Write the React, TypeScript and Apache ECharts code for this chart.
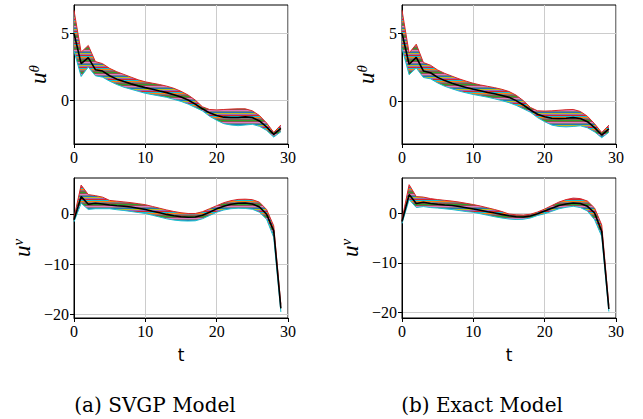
import React, { useEffect, useRef } from 'react';
import * as echarts from 'echarts';

// time steps
const tValues = [0, 1, 2, 3, 4, 5, 6, 7, 8, 9, 10, 11, 12, 13, 14, 15, 16, 17, 18, 19, 20, 21, 22, 23, 24, 25, 26, 27, 28, 29];

// (a) SVGP model, u^theta
const thetaSvgpMean = [5.0, 2.75, 3.2, 2.3, 2.2, 1.85, 1.6, 1.42, 1.25, 1.1, 0.97, 0.85, 0.72, 0.6, 0.45, 0.27, 0.05, -0.25, -0.6, -0.9, -1.1, -1.22, -1.24, -1.24, -1.2, -1.25, -1.5, -1.95, -2.5, -2.05];
const thetaSvgpUpper = [6.7, 3.6, 4.1, 2.9, 2.75, 2.4, 2.15, 1.95, 1.75, 1.55, 1.4, 1.3, 1.2, 1.08, 0.92, 0.7, 0.42, 0.05, -0.45, -0.65, -0.68, -0.65, -0.62, -0.6, -0.6, -0.75, -1.1, -1.65, -2.35, -1.8];
const thetaSvgpLower = [3.7, 1.8, 2.5, 1.85, 1.75, 1.45, 1.2, 1.0, 0.85, 0.7, 0.55, 0.45, 0.35, 0.25, 0.1, -0.05, -0.25, -0.5, -0.75, -1.15, -1.45, -1.7, -1.8, -1.85, -1.8, -1.75, -1.9, -2.2, -2.7, -2.3];

// (b) Exact model, u^theta
const thetaExactMean = [5.0, 2.72, 3.23, 2.23, 2.1, 1.76, 1.52, 1.33, 1.16, 1.02, 0.88, 0.77, 0.65, 0.55, 0.42, 0.29, 0.05, -0.27, -0.64, -0.95, -1.13, -1.25, -1.26, -1.25, -1.2, -1.27, -1.5, -1.94, -2.48, -2.03];
const thetaExactUpper = [6.7, 3.55, 4.2, 2.85, 2.65, 2.3, 2.05, 1.85, 1.65, 1.48, 1.32, 1.2, 1.1, 1.0, 0.88, 0.72, 0.45, 0.05, -0.45, -0.7, -0.72, -0.7, -0.66, -0.62, -0.6, -0.75, -1.1, -1.65, -2.3, -1.75];
const thetaExactLower = [3.9, 1.95, 2.45, 1.75, 1.65, 1.35, 1.1, 0.92, 0.75, 0.62, 0.5, 0.4, 0.3, 0.18, 0.05, -0.1, -0.3, -0.55, -0.8, -1.2, -1.5, -1.75, -1.85, -1.88, -1.85, -1.8, -1.95, -2.25, -2.68, -2.28];

// (a) SVGP model, u^v
const vSvgpMean = [-1.2, 3.4, 1.9, 2.1, 1.95, 1.75, 1.6, 1.5, 1.35, 1.1, 0.85, 0.5, 0.2, -0.13, -0.4, -0.6, -0.7, -0.65, -0.3, 0.3, 0.97, 1.5, 1.9, 2.1, 2.15, 1.95, 1.35, -0.1, -3.4, -18.8];
const vSvgpUpper = [-0.8, 5.7, 3.8, 3.6, 3.3, 2.65, 2.5, 2.35, 2.2, 2.0, 1.8, 1.45, 1.1, 0.75, 0.45, 0.2, 0.05, 0.05, 0.4, 1.0, 1.6, 2.2, 2.6, 2.85, 2.9, 2.8, 2.3, 0.85, -2.4, -18.0];
const vSvgpLower = [-1.6, 2.1, 0.85, 1.0, 1.0, 1.0, 0.8, 0.65, 0.45, 0.25, 0.05, -0.3, -0.65, -1.0, -1.25, -1.4, -1.45, -1.4, -1.0, -0.35, 0.3, 0.75, 1.0, 1.1, 1.05, 0.9, 0.3, -1.1, -4.7, -19.5];

// (b) Exact model, u^v
const vExactMean = [-1.7, 3.7, 1.9, 2.15, 1.9, 1.75, 1.62, 1.5, 1.3, 1.05, 0.8, 0.55, 0.27, 0.0, -0.27, -0.55, -0.75, -0.8, -0.6, -0.15, 0.4, 0.95, 1.5, 1.8, 2.0, 1.9, 1.35, 0.0, -3.7, -19.3];
const vExactUpper = [-1.3, 5.7, 3.3, 3.2, 2.9, 2.7, 2.55, 2.4, 2.2, 1.95, 1.7, 1.4, 1.05, 0.7, 0.3, -0.2, -0.35, -0.4, -0.25, 0.2, 0.8, 1.5, 2.2, 2.7, 3.0, 2.9, 2.4, 1.0, -2.4, -18.6];
const vExactLower = [-2.1, 2.7, 1.1, 1.3, 1.1, 1.0, 0.85, 0.7, 0.5, 0.3, 0.15, -0.15, -0.45, -0.75, -1.0, -1.2, -1.3, -1.25, -1.0, -0.5, -0.15, 0.35, 0.85, 1.15, 1.35, 1.1, 0.4, -1.35, -4.7, -19.8];

const xTicks = [0, 10, 20, 30];
const thetaTicks = [0, 5];
const vTicks = [-20, -10, 0];
const captions = ['(a) SVGP Model', '(b) Exact Model'];

// matplotlib tab10 colours, mixed so that no hue dominates the band texture
const stripeColors = ['#2ca02c', '#8c564b', '#e377c2', '#7f7f7f', '#1f77b4', '#bcbd22', '#9467bd', '#d62728', '#17becf', '#ff7f0e', '#7f7f7f', '#8c564b'];

const SERIF = 'serif';

function makePattern() {
  const c = document.createElement('canvas');
  c.width = 2;
  c.height = stripeColors.length;
  const ctx = c.getContext('2d')!;
  stripeColors.forEach((col, i) => {
    ctx.fillStyle = col;
    ctx.fillRect(0, i, 2, 1);
  });
  return { image: c, repeat: 'repeat', imageWidth: 2, imageHeight: stripeColors.length } as any;
}

export default function App() {
  const ref = useRef<HTMLDivElement>(null);
  useEffect(() => {
    if (!ref.current) return;
    const chart = echarts.init(ref.current, undefined, { renderer: 'svg' });
    const pattern = makePattern();

    const panels = [
      { grid: { left: 74, top: 5, width: 214, height: 139 }, min: -3.21, max: 7.1, ticks: thetaTicks, sup: 'θ', gap: 24, mean: thetaSvgpMean, upper: thetaSvgpUpper, lower: thetaSvgpLower, xName: '' },
      { grid: { left: 402, top: 5, width: 214, height: 139 }, min: -3.14, max: 7.08, ticks: thetaTicks, sup: 'θ', gap: 24, mean: thetaExactMean, upper: thetaExactUpper, lower: thetaExactLower, xName: '' },
      { grid: { left: 74, top: 178, width: 214, height: 140 }, min: -20.7, max: 7.1, ticks: vTicks, sup: 'v', gap: 40, mean: vSvgpMean, upper: vSvgpUpper, lower: vSvgpLower, xName: 't' },
      { grid: { left: 402, top: 178, width: 214, height: 140 }, min: -21.1, max: 7.04, ticks: vTicks, sup: 'v', gap: 40, mean: vExactMean, upper: vExactUpper, lower: vExactLower, xName: 't' },
    ];

    const fmt = (v: number) => String(v).replace('-', '\u2212');

    const option: any = {
      animation: false,
      textStyle: { fontFamily: 'serif' },
      grid: panels.map((p) => ({ ...p.grid, show: true, borderColor: '#000', borderWidth: 1, backgroundColor: 'transparent' })),
      xAxis: panels.map((p, i) => ({
        type: 'value', gridIndex: i, min: 0, max: 30, interval: 10,
        axisLine: { show: true, onZero: false, lineStyle: { color: '#000', width: 1 } },
        axisTick: { show: true, length: 4, lineStyle: { color: '#000' } },
        axisLabel: { color: '#000', fontFamily: SERIF, fontSize: 16, margin: 5, formatter: fmt, customValues: xTicks },
        splitLine: { show: true, lineStyle: { color: '#cccccc', width: 1 } },
        name: p.xName, nameLocation: 'middle', nameGap: 28,
        nameTextStyle: { fontFamily: 'DejaVu Sans', fontSize: 17, color: '#000' },
      })),
      yAxis: panels.map((p, i) => ({
        type: 'value', gridIndex: i, min: p.min, max: p.max,
        axisLine: { show: true, onZero: false, lineStyle: { color: '#000', width: 1 } },
        axisTick: { show: true, length: 4, lineStyle: { color: '#000' }, customValues: p.ticks },
        axisLabel: { color: '#000', fontFamily: 'Times New Roman', fontSize: 16, margin: 5, formatter: fmt, customValues: p.ticks },
        splitLine: { show: true, lineStyle: { color: '#cccccc', width: 1 } },
        name: '{u|u}{s|' + p.sup + '}', nameLocation: 'middle', nameRotate: 90, nameGap: p.gap,
        nameTextStyle: {
          rich: {
            u: { fontFamily: 'Liberation Serif', fontStyle: 'italic', fontSize: 23, color: '#000', lineHeight: 24, verticalAlign: 'bottom' },
            s: { fontFamily: 'Liberation Serif', fontStyle: 'italic', fontSize: 15, color: '#000', lineHeight: 24, verticalAlign: 'top' },
          },
        },
      })),
      series: panels.flatMap((p, i) => [
        {
          type: 'custom', xAxisIndex: i, yAxisIndex: i, clip: true, silent: true, z: 2,
          data: tValues.map((t, j) => [t, p.mean[j]]),
          renderItem: (params: any, api: any) => {
            if (params.dataIndex !== 0) return null;
            const pts: number[][] = [];
            for (let j = 0; j < tValues.length; j++) pts.push(api.coord([tValues[j], p.upper[j]]));
            for (let j = tValues.length - 1; j >= 0; j--) pts.push(api.coord([tValues[j], p.lower[j]]));
            return { type: 'polygon', shape: { points: pts }, style: { fill: pattern, stroke: null } };
          },
        },
        {
          type: 'line', xAxisIndex: i, yAxisIndex: i, silent: true, showSymbol: false, z: 3,
          data: tValues.map((t, j) => [t, p.upper[j]]), lineStyle: { color: '#d62728', width: 1 },
        },
        {
          type: 'line', xAxisIndex: i, yAxisIndex: i, silent: true, showSymbol: false, z: 3,
          data: tValues.map((t, j) => [t, p.lower[j]]), lineStyle: { color: '#17becf', width: 1 },
        },
        {
          type: 'line', xAxisIndex: i, yAxisIndex: i, silent: true, showSymbol: false, z: 5,
          data: tValues.map((t, j) => [t, p.mean[j]]), lineStyle: { color: '#000', width: 1.6 },
        },
      ]),
      graphic: captions.map((c, i) => ({
        type: 'text', x: i === 0 ? 155 : 482, y: 405,
        style: { text: c, font: '20px "DejaVu Serif"', fill: '#000', align: 'center', verticalAlign: 'middle' },
      })),
    };
    chart.setOption(option);
    return () => chart.dispose();
  }, []);
  return <div ref={ref} style={{ position: 'fixed', left: 0, top: 0, width: 643, height: 419, background: '#fff' }} />;
}
